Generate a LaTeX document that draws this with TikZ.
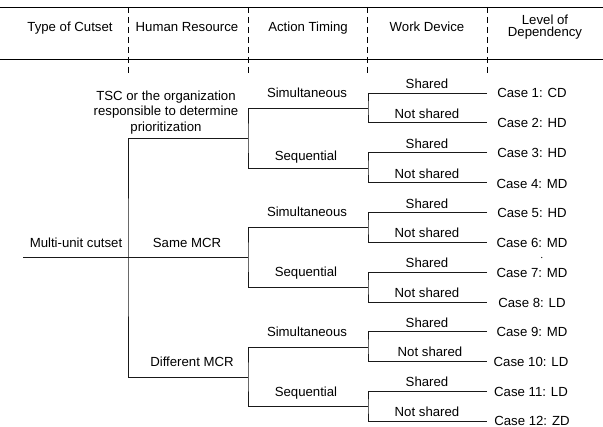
\documentclass[tikz,border=0pt]{standalone}
\usepackage{fontspec}
\setmainfont{Liberation Sans}
\begin{document}
\begin{tikzpicture}[x=1pt,y=-1pt,
  every node/.style={font=\fontsize{13.2}{15.5}\selectfont, inner sep=0pt, text=black},
  lbl/.style={anchor=base},
  hdr/.style={anchor=base},
  casebox/.style={anchor=center},
  tree/.style={line width=0.9pt, draw=black!90},
  sep/.style={line width=0.8pt, dash pattern=on 6pt off 4pt},
  rule/.style={line width=0.9pt}
]
\useasboundingbox (0,0) rectangle (603,427);

% header rules
\coordinate (tl) at (0,7);
\coordinate (tr) at (603,7);
\coordinate (bl) at (0,59);
\coordinate (br) at (603,59);
\draw[rule] (tl) -- (tr);
\draw[rule] (bl) -- (br);
\foreach \x/\n in {128/s1,248/s2,367/s3,487/s4}{
  \coordinate (\n t) at (\x,7);
  \coordinate (\n b) at (\x,75);
  \draw[sep] (\n t) -- (\n b);
}

% header texts
\node[hdr] (H1) at (70,31.5) {Type of Cutset};
\node[hdr] (H2) at (187,31.5) {Human Resource};
\node[hdr] (H3) at (308,31.5) {Action Timing};
\node[hdr] (H4) at (427,31.5) {Work Device};
\node[align=center, font=\fontsize{13.2}{12.6}\selectfont] (H5) at (545,27) {Level of\\Dependency};

% tree coordinates
\coordinate (r) at (23,257);
\coordinate (j0) at (128,257);
\coordinate (h1) at (248,138);
\coordinate (h2) at (248,257);
\coordinate (h3) at (248,377);
\foreach \i/\y in {1/108,2/168,3/227,4/287,5/347,6/406.5}{
  \coordinate (t\i) at (368,\y);
}
\foreach \i/\y in {1/93,2/122.5,3/152.5,4/182.5,5/212.5,6/242,7/272,8/302,9/331.5,10/361,11/391,12/421}{
  \coordinate (d\i) at (487,\y);
}

% tree lines
\draw[tree] (r) -- (h2);
\draw[tree] (h1) -| (j0) |- (h3);
\draw[tree] (t1) -| (h1) |- (t2);
\draw[tree] (t3) -| (h2) |- (t4);
\draw[tree] (t5) -| (h3) |- (t6);
\draw[tree] (d1) -| (t1) |- (d2);
\draw[tree] (d3) -| (t2) |- (d4);
\draw[tree] (d5) -| (t3) |- (d6);
\draw[tree] (d7) -| (t4) |- (d8);
\draw[tree] (d9) -| (t5) |- (d10);
\draw[tree] (d11) -| (t6) |- (d12);

% root and human resource labels
\node[lbl] (root) at (76,247.5) {Multi-unit cutset};
\node[align=center] (tsc) at (166,112.5) {TSC or the organization\\responsible to determine\\prioritization};
\node[lbl] (same) at (187,247.5) {Same MCR};
\node[lbl] (diff) at (192,366.5) {Different MCR};

% timing labels
\node[lbl] (a1) at (307,97.5) {Simultaneous};
\node[lbl] (a2) at (306,160.5) {Sequential};
\node[lbl] (a3) at (307,216.5) {Simultaneous};
\node[lbl] (a4) at (306,276.5) {Sequential};
\node[lbl] (a5) at (307,336.5) {Simultaneous};
\node[lbl] (a6) at (306,396.5) {Sequential};

% device labels
\node[lbl] (w1) at (427,89) {Shared};
\node[lbl] (w2) at (427,118.5) {Not shared};
\node[lbl] (w3) at (427,148.5) {Shared};
\node[lbl] (w4) at (427,178.5) {Not shared};
\node[lbl] (w5) at (427,208.5) {Shared};
\node[lbl] (w6) at (427,238) {Not shared};
\node[lbl] (w7) at (427,268) {Shared};
\node[lbl] (w8) at (427,298) {Not shared};
\node[lbl] (w9) at (427,327.5) {Shared};
\node[lbl] (w10) at (430,357) {Not shared};
\node[lbl] (w11) at (427,387) {Shared};
\node[lbl] (w12) at (427,417) {Not shared};

% case labels
\node[casebox] (c1) at (532,93) {Case 1: CD};
\node[casebox] (c2) at (532,123) {Case 2: HD};
\node[casebox] (c3) at (532,153) {Case 3: HD};
\node[casebox] (c4) at (532,183.5) {Case 4: MD};
\node[casebox] (c5) at (532,213) {Case 5: HD};
\node[casebox] (c6) at (532,243) {Case 6: MD};
\node[casebox] (c7) at (532,273) {Case 7: MD};
\node[casebox] (c8) at (532,302.5) {Case 8: LD};
\node[casebox] (c9) at (532,332) {Case 9: MD};
\node[casebox] (c10) at (531,362) {Case 10: LD};
\node[casebox] (c11) at (531,391.5) {Case 11: LD};
\node[casebox] (c12) at (532,420.5) {Case 12: ZD};

% stray dot
\fill (541.7,257.5) circle (0.6);
\end{tikzpicture}
\end{document}
